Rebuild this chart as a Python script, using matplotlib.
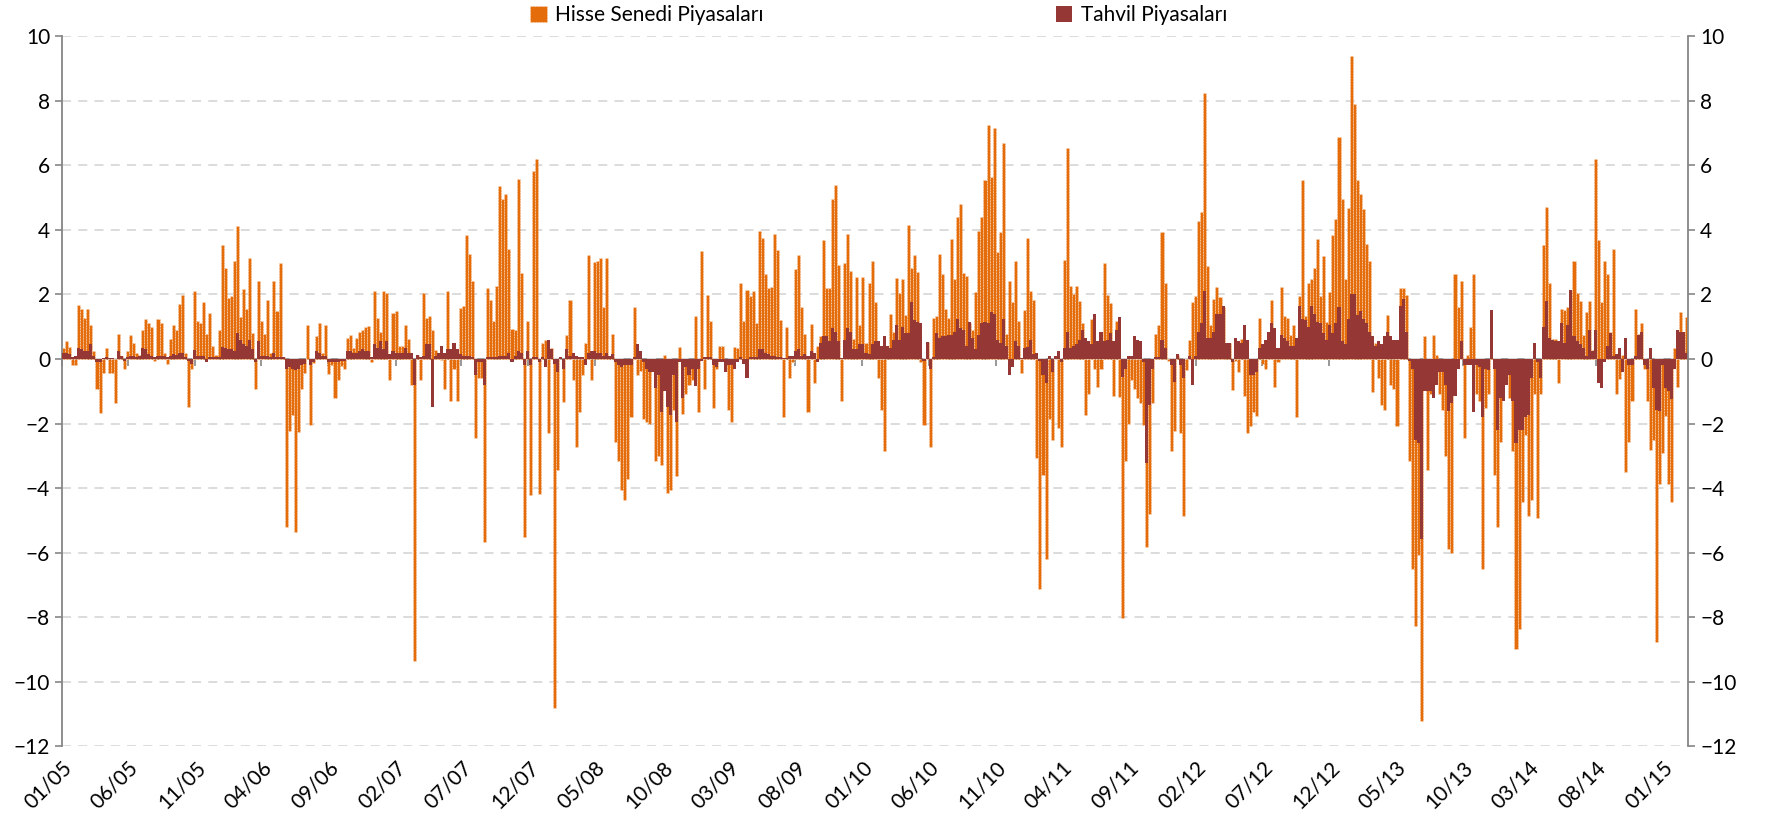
import numpy as np
import pandas as pd
import matplotlib
matplotlib.use('Agg')
import matplotlib.pyplot as plt
from matplotlib.patches import Patch

plt.rcParams['font.family'] = ['Lato', 'DejaVu Sans']

# haftalık akımlar, 01/2005 - 02/2015 (%)
hisse = [
    0.34, 0.55, 0.38, -0.2, -0.2, 1.67, 1.55, 1.27, 1.55, 1.05, 0.24, -0.94, -1.68, -0.44, 0.34, -0.44, -0.44, -1.37, 0.77, 0.1,
    -0.3, 0.24, 0.74, 0.48, 0.2, 0.13, 0.9, 1.24, 1.1, 0.98, -0.06, 1.24, 1.1, 0.2, -0.16, 0.63, 1.05, 0.9, 1.7, 1.98, 0.2, -1.5,
    -0.3, 2.12, 1.17, 1.13, 1.77, 0.77, 1.41, 0.41, 0.13, 0.91, 3.52, 2.83, 1.9, 1.94, 3.05, 4.12, 1.31,
    2.17, 1.55, 3.12, 0.8, -0.94, 2.41, 1.17, 0.77, 1.84, 0.2, 2.41, 1.48, 2.98, 0.06, -5.19, -2.22, -1.72, -5.36,
    -2.26, -0.94, -0.44, 1.05, -2.04, -0.11, 0.7, 1.1, 0.2,
    1.05, -0.48, -0.2, -1.2, -0.66, -0.23, -0.3, 0.66, 0.74, 0.34, 0.66, 0.84, 0.91, 0.98, 1.03, -0.1, 2.12, 1.27,
    0.84, 2.12, 2.05, -0.66, 1.41, 1.48, 0.41, 0.41, 1.05, 0.63, -0.8, -9.37, 0.13, -0.66, 2.05, 1.27, 1.34, 0.91, 0.27, 0.13,
    -0.02, -0.94, 2.12, -1.3, -0.3, -1.3, 1.58,
    1.65, 3.83, 3.26, 2.41, -2.44, -0.58, -0.58, -5.68, 2.19, 1.84, 1.17, 2.26, 5.36, 4.97, 5.11, 3.4, 0.94, 0.91, 5.58, 2.65,
    -5.5, 1.17, -4.22, 5.83, 6.21, -4.19, 0.48, 0.6, -2.29, 0.34, -10.8, -3.43, 0.0, -1.34, 0.73, 1.84, -0.66, -2.72, -1.65, -0.5,
    0.51, 3.22, -0.66, 3.0, 3.05,
    3.12, 1.62, 3.12, 0.06, 0.77, -2.58, -3.15, -4.07, -4.36, -3.72, -1.79, 1.6, -0.5, -0.37, -1.87, -1.94, -2.01, -0.3, -3.15, -3.0,
    -3.29, 0.13, -4.15, -4.07, -1.58, -3.62, 0.37, -1.7, -1.08, -0.8, -0.66, 1.34, -1.65, 3.36, -0.94, 1.98, 1.17, -1.51, -0.3, 0.41,
    0.41, -0.37, -1.58, -1.94,
    0.37, 0.34, 2.34, 1.17, 2.15, 1.94, 2.12, 1.1, 3.95, 3.76, 2.62, 2.19, 2.22, 3.87, 3.38, 1.2, -1.79, 0.98, -0.58, -0.08,
    2.8, 3.22, 1.62, 0.77, -1.65, 1.08, -0.73, 0.41, 0.7, 3.69, 2.19, 2.19, 4.97, 5.38, 2.9, -1.3, 2.98, 3.87, 2.73, 0.63,
    2.55, 1.05, 2.55, 0.51, 2.36,
    3.02, 1.77, -0.58, -1.58, -2.86, 0.34, 1.38, 0.84, 2.52, 2.05, 2.48, 1.37, 4.15, 2.83, 3.22, 2.69, -0.08, -2.05, 0.53, -2.72,
    1.27, 1.34, 3.26, 2.62, 1.55, 1.27, 3.73, 2.48, 4.4, 4.79, 2.66, 2.58, 1.13, 0.91, 2.08, 3.97, 4.4, 5.54, 7.25, 5.64,
    7.14, 3.3, 3.93, 6.68,
    0.77, 2.41, 1.77, 3.05, 1.17, -0.44, 1.51, 3.76, 2.12, 1.84, -3.08, -7.14, -3.58, -6.21, -1.87, -2.51, 0.0, -2.15, -2.72, 3.08,
    6.54, 2.26, 2.0, 2.26, 1.8, 1.13, -1.72, -1.08, 1.23, -0.3, -0.87, -0.3, 2.98, 1.98, 1.72, -1.15, 1.17, -1.18, -8.03, -3.15,
    -2.01, -0.66, -0.94, -1.22,
    -1.37, -2.05, -5.81, -4.79, -1.37, 0.77, 1.05, 3.93, 2.34, -0.06, -2.86, -2.22, 0.13, -2.29, -4.86, -0.33, 0.6, 1.77, 1.94, 4.26,
    4.54, 8.25, 2.88, 1.05, 1.87, 2.24, 1.91, 1.62, 0.51, 0.48, -0.97, -0.06, -0.4, 0.63, -1.15, -2.29, -2.08, -1.65, -1.77, 1.27,
    -0.16, -0.3, 0.34, 1.84, -0.87,
    -0.08, 2.22, 1.34, 1.27, 0.73, 1.05, -1.79, 1.94, 5.54, 1.34, 2.34, 2.48, 2.83, 3.73, 1.95, 3.19, 1.15, 2.09, 3.83, 4.33,
    6.87, 4.97, 2.48, 4.69, 9.39, 7.89, 5.54, 5.11, 4.66, 3.55, 3.05, -1.01, 0.48, -0.58, -1.44, -1.58, 1.37, -0.8, -0.94, -2.08,
    2.19, 2.19, 1.98,
    -3.15, -6.5, -8.28, -6.07, -11.2, 0.7, -3.43, -1.08, 0.74, 0.13, -1.08, -1.58, -3.0, -5.9, -6.0, 2.62, 1.62, 2.41, -2.44, 0.13,
    0.98, 2.62, -1.08, -1.3, -6.5, -1.51, -1.08, 0.04, -3.58, -5.21, -2.58, -0.73, -0.08, -1.22, -2.86, -8.99, -8.35, -4.43, -2.36, -4.86,
    -4.36, -1.08, -4.93,
    -1.08, 3.52, 4.72, 2.36, 0.63, 0.63, -0.73, 1.55, 1.51, 1.6, 2.12, 3.05, 2.05, 1.8, 0.74, 1.45, 1.8, 0.27, 6.18, 3.69,
    1.77, 3.05, 2.62, 0.84, 3.4, -1.08, -0.61, 0.13, -3.5, -2.58, -1.3, 1.55, 0.77, 1.1, -0.3, -1.3, -2.82, -2.51, -8.77, -3.86,
    -2.9, -1.77, -3.86, -4.43, 0.34, -0.87, 1.45, 0.84, 1.31,
]

tahvil = [
    0.2, 0.2, 0.15, 0.05, 0.1, 0.34, 0.3, 0.25, 0.25, 0.45, 0.1, -0.1, -0.1, 0.02, 0.05, 0.02, 0.02, 0.0, 0.24, 0.1,
    -0.05, 0.05, 0.1, 0.08, 0.05, 0.1, 0.34, 0.3, 0.15, 0.1, 0.05, 0.1, 0.08, 0.08, 0.05, 0.1, 0.15, 0.12, 0.2, 0.2, 0.05, -0.05,
    -0.15, 0.27, 0.1, 0.1, 0.1, -0.1, 0.05, 0.05, 0.05, 0.05, 0.37, 0.35, 0.3, 0.3, 0.25, 0.81, 0.6,
    0.45, 0.4, 0.6, 0.3, -0.1, 0.55, 0.1, 0.1, 0.1, 0.05, 0.2, 0.05, 0.05, 0.05, -0.3, -0.25, -0.3, -0.35,
    -0.3, -0.2, -0.15, 0.0, -0.2, -0.1, 0.25, 0.2, 0.1,
    0.1, -0.1, -0.1, -0.1, -0.1, -0.05, -0.05, 0.25, 0.25, 0.2, 0.2, 0.25, 0.3, 0.25, 0.25, 0.05, 0.45, 0.35,
    0.55, 0.3, 0.55, 0.15, 0.25, 0.2, 0.2, 0.2, 0.35, 0.2, 0.2, -0.8, 0.13, 0.05, 0.1, 0.45, 0.45, -1.48, 0.1, 0.2,
    0.4, 0.2, 0.3, 0.3, 0.5, 0.3, 0.15,
    0.1, 0.1, 0.1, 0.05, -0.5, -0.1, -0.1, -0.8, 0.05, 0.05, 0.05, 0.05, 0.1, 0.1, 0.1, 0.2, -0.1, 0.1, 0.25, 0.2,
    -0.2, 0.25, -0.2, 0.05, 0.05, -0.1, 0.05, -0.25, 0.6, 0.3, -0.15, -0.4, 0.05, -0.3, 0.3, 0.1, 0.2, 0.1, 0.05, 0.05,
    -0.2, 0.2, 0.25, 0.25, 0.2,
    0.2, 0.1, 0.2, 0.1, 0.15, -0.1, -0.2, -0.25, -0.2, -0.2, -0.2, 0.05, 0.45, 0.25, -0.1, -0.3, -0.4, -0.4, -0.9, -0.5,
    -1.65, -1.0, -1.5, -1.75, -0.5, -1.95, -0.1, -1.2, -0.25, -0.5, -0.3, -0.85, -0.3, -0.05, 0.05, 0.05, 0.05, -0.2, -0.25, -0.1,
    -0.1, -0.4, -0.2, -0.2,
    -0.3, -0.1, 0.05, -0.15, -0.6, 0.05, 0.05, 0.05, 0.3, 0.3, 0.2, 0.15, 0.1, 0.1, 0.05, 0.05, 0.02, 0.02, 0.1, 0.1,
    0.25, 0.3, 0.1, 0.15, 0.1, 0.25, 0.2, -0.1, 0.5, 0.7, 0.7, 0.55, 0.95, 0.85, 0.55, 0.02, 0.6, 0.95, 0.85, 0.3,
    0.3, 0.45, 0.45, 0.2, 0.15,
    0.45, 0.55, 0.55, 0.4, 0.7, 0.4, 0.35, 0.6, 1.05, 0.6, 1.0, 0.8, 0.8, 1.75, 1.2, 1.15, 1.1, -0.05, 0.53, -0.3,
    0.05, 0.8, 0.65, 0.7, 0.7, 0.75, 0.75, 0.85, 1.25, 0.95, 0.9, 0.4, 1.15, 0.65, 0.3, 0.75, 1.1, 1.15, 1.1, 1.45,
    1.4, 0.6, 0.5, 1.25,
    0.4, -0.5, -0.25, 0.55, 0.4, 0.02, 0.35, 0.37, 0.6, 0.15, 0.2, -0.05, -0.5, -0.75, 0.1, -0.4, 0.1, 0.25, -0.1, 0.35,
    0.85, 0.35, 0.4, 0.45, 0.6, 0.9, 0.65, 0.55, 0.45, 1.4, 0.55, 0.85, 0.55, 0.6, 0.8, 0.55, 0.9, 1.3, -0.55, -0.3,
    0.1, 0.08, 0.7, 0.6,
    0.56, -0.1, -3.22, -1.44, -0.3, 0.05, 0.05, 0.6, 0.35, 0.0, -0.2, -0.7, 0.15, -0.2, -0.6, 0.0, 0.1, -0.8, 0.1, 0.85,
    1.1, 2.1, 0.65, 0.65, 0.85, 1.4, 1.4, 1.65, 0.5, 0.48, -0.1, 0.65, 0.55, 0.5, 1.05, 0.6, -0.5, -0.5, -0.4, 0.35,
    0.45, 0.6, 0.85, 1.1, 0.95,
    0.35, 0.75, 0.65, 0.55, 0.4, 0.4, 0.65, 1.65, 1.25, 1.2, 1.0, 1.65, 1.4, 1.15, 1.1, 0.8, 0.6, 1.05, 0.8, 1.1,
    1.6, 0.55, 0.45, 1.25, 2.0, 2.0, 1.35, 1.5, 1.25, 1.1, 0.85, 0.7, 0.4, 0.55, 0.45, 0.7, 0.85, 0.7, 0.6, 0.6,
    1.65, 1.85, 0.85,
    -0.05, -0.3, -2.5, -2.6, -5.57, -1.0, -1.0, -1.0, -1.2, -0.8, -0.4, -0.4, -0.8, -1.6, -1.35, -1.15, -0.3, 0.55, -0.2, -0.2,
    -0.2, -1.65, -0.2, -0.25, -1.8, -0.3, -0.35, 1.51, -0.3, -2.2, -1.2, -1.3, -0.8, -0.5, -1.3, -2.6, -2.2, -2.2, -1.8, -1.75,
    -0.6, 0.5, -0.1,
    -0.6, 1.0, 1.8, 0.65, 0.6, 0.55, 0.55, 1.1, 0.5, 1.05, 2.15, 0.7, 0.55, 0.45, 0.35, 0.1, 0.9, 0.25, 0.9, -0.75,
    -0.9, -0.1, 0.4, 0.8, 0.1, 0.15, 0.35, -0.4, 0.65, -0.2, -0.2, 0.1, 0.75, 0.85, -0.2, -0.3, 0.35, -0.9, -1.58, -1.6,
    -0.2, -0.9, -1.0, -1.25, -0.3, 0.9, 0.85, 0.85, 0.2,
]

seri_adlari = ['Hisse Senedi Piyasaları', 'Tahvil Piyasaları']
baslangic, bitis = pd.Timestamp('2005-01-01'), pd.Timestamp('2015-02-28')
y_ticks = list(range(-12, 11, 2))

TURUNCU = '#E46C0A'
BORDO = '#953735'
GRI = '#868686'

n = len(hisse)
adim = (bitis - baslangic) / n
tarihler = [baslangic + adim * (i + 0.5) for i in range(n)]
genislik = adim.total_seconds() / 86400

fig = plt.figure(figsize=(17.68, 8.22), dpi=100)
ax = fig.add_axes([0.035, 0.092, 0.92, 0.864])

ax.bar(tarihler, hisse, width=genislik, color=TURUNCU, edgecolor='#FDE3CF',
       linewidth=0.5, linestyle=(0, (1.5, 2.5)), zorder=2)
ax.bar(tarihler, tahvil, width=genislik, color=BORDO, linewidth=0, zorder=3)

ax.set_xlim(baslangic, bitis)
ax.set_ylim(-12, 10)
ax.set_yticks(y_ticks)
ax.yaxis.grid(True, color='#D9D9D9', linestyle=(0, (5, 4)), linewidth=1.3, zorder=0)
ax.set_axisbelow(True)

for s in ['top', 'bottom', 'right']:
    ax.spines[s].set_visible(False)
ax.spines['left'].set_color(GRI)
ax.spines['left'].set_linewidth(1.3)
ax.tick_params(axis='y', colors='black', labelsize=15, length=5, color=GRI, width=1.2)

# x etiketleri: 5 ayda bir
ay_ticks = pd.date_range('2005-01-01', '2015-01-01', freq='5MS')
ax.set_xticks(ay_ticks)
ax.set_xticklabels([d.strftime('%m/%y') for d in ay_ticks], rotation=45,
                   ha='right', rotation_mode='anchor', fontsize=15)
ax.tick_params(axis='x', length=0, pad=8)

# sıfır çizgisi üzerindeki yatay eksen
sec = ax.secondary_xaxis(0, transform=ax.transData)
sec.set_xticks(ay_ticks)
sec.tick_params(axis='x', length=5, color=GRI, width=1.2, labelbottom=False, direction='out')
sec.spines['bottom'].set_color(GRI)
sec.spines['bottom'].set_linewidth(1.2)

# sağ eksen
ax2 = ax.twinx()
ax2.set_ylim(-12, 10)
ax2.set_yticks(y_ticks)
for s in ['top', 'bottom', 'left']:
    ax2.spines[s].set_visible(False)
ax2.spines['right'].set_color(GRI)
ax2.spines['right'].set_linewidth(1.3)
ax2.tick_params(axis='y', labelsize=15, length=5, color=GRI, width=1.2)

handles = [
    Patch(facecolor=TURUNCU, edgecolor='#FDE3CF', linestyle=(0, (1.5, 2.5)), linewidth=0.5, label=seri_adlari[0]),
    Patch(facecolor=BORDO, label=seri_adlari[1]),
]
fig.legend(handles=handles, loc='center', bbox_to_anchor=(0.497, 0.982), ncol=2, frameon=False,
           columnspacing=14, handlelength=0.8, handleheight=0.8, handletextpad=0.4, fontsize=15)

fig.savefig('out.png', dpi=100)
